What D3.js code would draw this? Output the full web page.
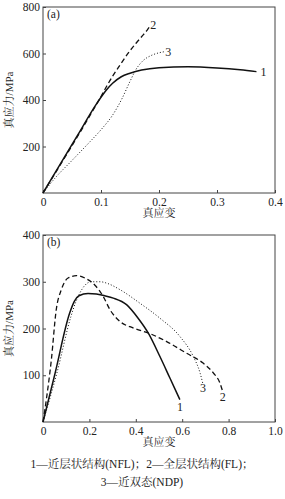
<!DOCTYPE html>
<html>
<head>
<meta charset="utf-8">
<script src="https://cdn.jsdelivr.net/npm/d3@7/dist/d3.min.js"></script>
<style>
  body { margin: 0; background: #fff; }
  svg text { font-family: "Times New Roman", "Liberation Serif", "Noto Serif CJK SC", "Noto Sans CJK SC", serif !important; fill: #222; }
  .axis path, .axis line { stroke: #444; }
  .axis text { font-size: 11.5px; }
</style>
</head>
<body>
<div id="container"></div>
<script>
// ---- data (a): true stress-strain, tension ----
const strainTicksA = [0, 0.1, 0.2, 0.3, 0.4];
const stressTicksA = [200, 400, 600, 800];
const a1 = [[0,0],[0.03,125],[0.06,250],[0.09,375],[0.1,412],[0.11,445],[0.12,472],[0.135,500],[0.15,515],[0.17,529],[0.2,539],[0.25,543],[0.3,538],[0.34,530],[0.368,522]];
const a2 = [[0,0],[0.03,122],[0.06,245],[0.09,372],[0.1,415],[0.11,460],[0.12,502],[0.13,540],[0.14,577],[0.15,612],[0.16,643],[0.17,672],[0.18,702],[0.184,716]];
const a3 = [[0,0],[0.02,62],[0.05,140],[0.08,218],[0.1,272],[0.12,335],[0.135,400],[0.15,480],[0.16,530],[0.172,568],[0.187,592],[0.2,603],[0.21,608]];
const labelsA = [["1",0.38,521],["2",0.19,722],["3",0.216,607]];

// ---- data (b): compression ----
const strainTicksB = [0, 0.2, 0.4, 0.6, 0.8, 1.0];
const stressTicksB = [100, 200, 300, 400];
const b1 = [[0,0],[0.05,100],[0.115,233],[0.135,258],[0.155,270],[0.194,275],[0.23,274],[0.266,270],[0.303,265],[0.36,251],[0.41,222],[0.454,190],[0.504,140],[0.547,94],[0.59,48]];
const b2 = [[0,0],[0.015,50],[0.036,133],[0.057,240],[0.079,283],[0.108,308],[0.144,313],[0.18,308],[0.223,293],[0.26,268],[0.289,240],[0.332,215],[0.39,201],[0.461,189],[0.533,172],[0.619,147],[0.69,126],[0.734,105],[0.763,83],[0.774,66]];
const b3 = [[0,0],[0.06,105],[0.12,225],[0.14,255],[0.158,275],[0.18,292],[0.208,300],[0.246,300],[0.28,296],[0.332,283],[0.418,254],[0.504,222],[0.59,183],[0.648,140],[0.677,105],[0.69,80]];
const labelsB = [["1",0.59,33],["2",0.775,53],["3",0.69,73]];

const legendLines = ["1—近层状结构(NFL)；2—全层状结构(FL)；", "3—近双态(NDP)"];

const styles = [
  {w: 1.5, dash: null},
  {w: 1.3, dash: "5,3"},
  {w: 1.0, dash: "1,2"}
];

const width = 285, height = 499;
const svg = d3.select("#container").append("svg")
  .attr("width", width).attr("height", height);

function panel(cfg) {
  const x = d3.scaleLinear().domain(cfg.xDomain).range([43, 275]);
  const y = d3.scaleLinear().domain(cfg.yDomain).range([cfg.bottom, cfg.top]);
  const g = svg.append("g");

  g.append("g").attr("class", "axis")
    .attr("transform", "translate(0," + cfg.bottom + ")")
    .call(d3.axisBottom(x).tickValues(cfg.xTicks).tickSize(-3).tickPadding(5)
      .tickFormat(cfg.xFmt))
    .attr("font-family", null).attr("font-size", null)
    .call(s => s.select(".domain").remove());

  g.append("g").attr("class", "axis")
    .attr("transform", "translate(43,0)")
    .call(d3.axisLeft(y).tickValues(cfg.yTicks).tickSize(-3).tickPadding(3))
    .attr("font-family", null).attr("font-size", null)
    .call(s => s.select(".domain").remove());

  g.append("rect")
    .attr("x", 43).attr("y", cfg.top)
    .attr("width", 232).attr("height", cfg.bottom - cfg.top)
    .attr("fill", "none").attr("stroke", "#444").attr("stroke-width", 1);

  const line = d3.line().x(d => x(d[0])).y(d => y(d[1])).curve(d3.curveMonotoneX);
  cfg.series.forEach((s, i) => {
    g.append("path").datum(s)
      .attr("d", line)
      .attr("fill", "none")
      .attr("stroke", "#111")
      .attr("stroke-width", styles[i].w)
      .attr("stroke-dasharray", styles[i].dash);
  });

  g.selectAll(".lbl").data(cfg.labels).enter().append("text")
    .attr("x", d => x(d[1])).attr("y", d => y(d[2]))
    .attr("dy", "0.35em")
    .attr("text-anchor", "middle")
    .style("font-size", "12px")
    .text(d => d[0]);

  g.append("text")
    .attr("x", 47).attr("y", cfg.top + 11)
    .style("font-size", "11.5px")
    .text(cfg.tag);

  g.append("text")
    .attr("x", 159).attr("y", cfg.bottom + 24)
    .attr("text-anchor", "middle")
    .style("font-size", "11px")
    .text("真应变");

  g.append("text")
    .attr("transform", "translate(13," + ((cfg.top + cfg.bottom) / 2) + ") rotate(-90)")
    .attr("text-anchor", "middle")
    .style("font-size", "11px")
    .text("真应力/MPa");
}

panel({
  xDomain: [0, 0.4], yDomain: [0, 800], top: 7, bottom: 193,
  xTicks: strainTicksA, yTicks: stressTicksA,
  xFmt: d => d === 0 ? "0" : d3.format(".1f")(d),
  series: [a1, a2, a3], labels: labelsA, tag: "(a)"
});

panel({
  xDomain: [0, 1.0], yDomain: [0, 400], top: 235, bottom: 422,
  xTicks: strainTicksB, yTicks: stressTicksB,
  xFmt: d => d === 0 ? "0" : d3.format(".1f")(d),
  series: [b1, b2, b3], labels: labelsB, tag: "(b)"
});

svg.selectAll(".legend").data(legendLines).enter().append("text")
  .attr("x", 142).attr("y", (d, i) => 468 + i * 18)
  .attr("text-anchor", "middle")
  .style("font-size", "11.5px")
  .text(d => d);
</script>
</body>
</html>
